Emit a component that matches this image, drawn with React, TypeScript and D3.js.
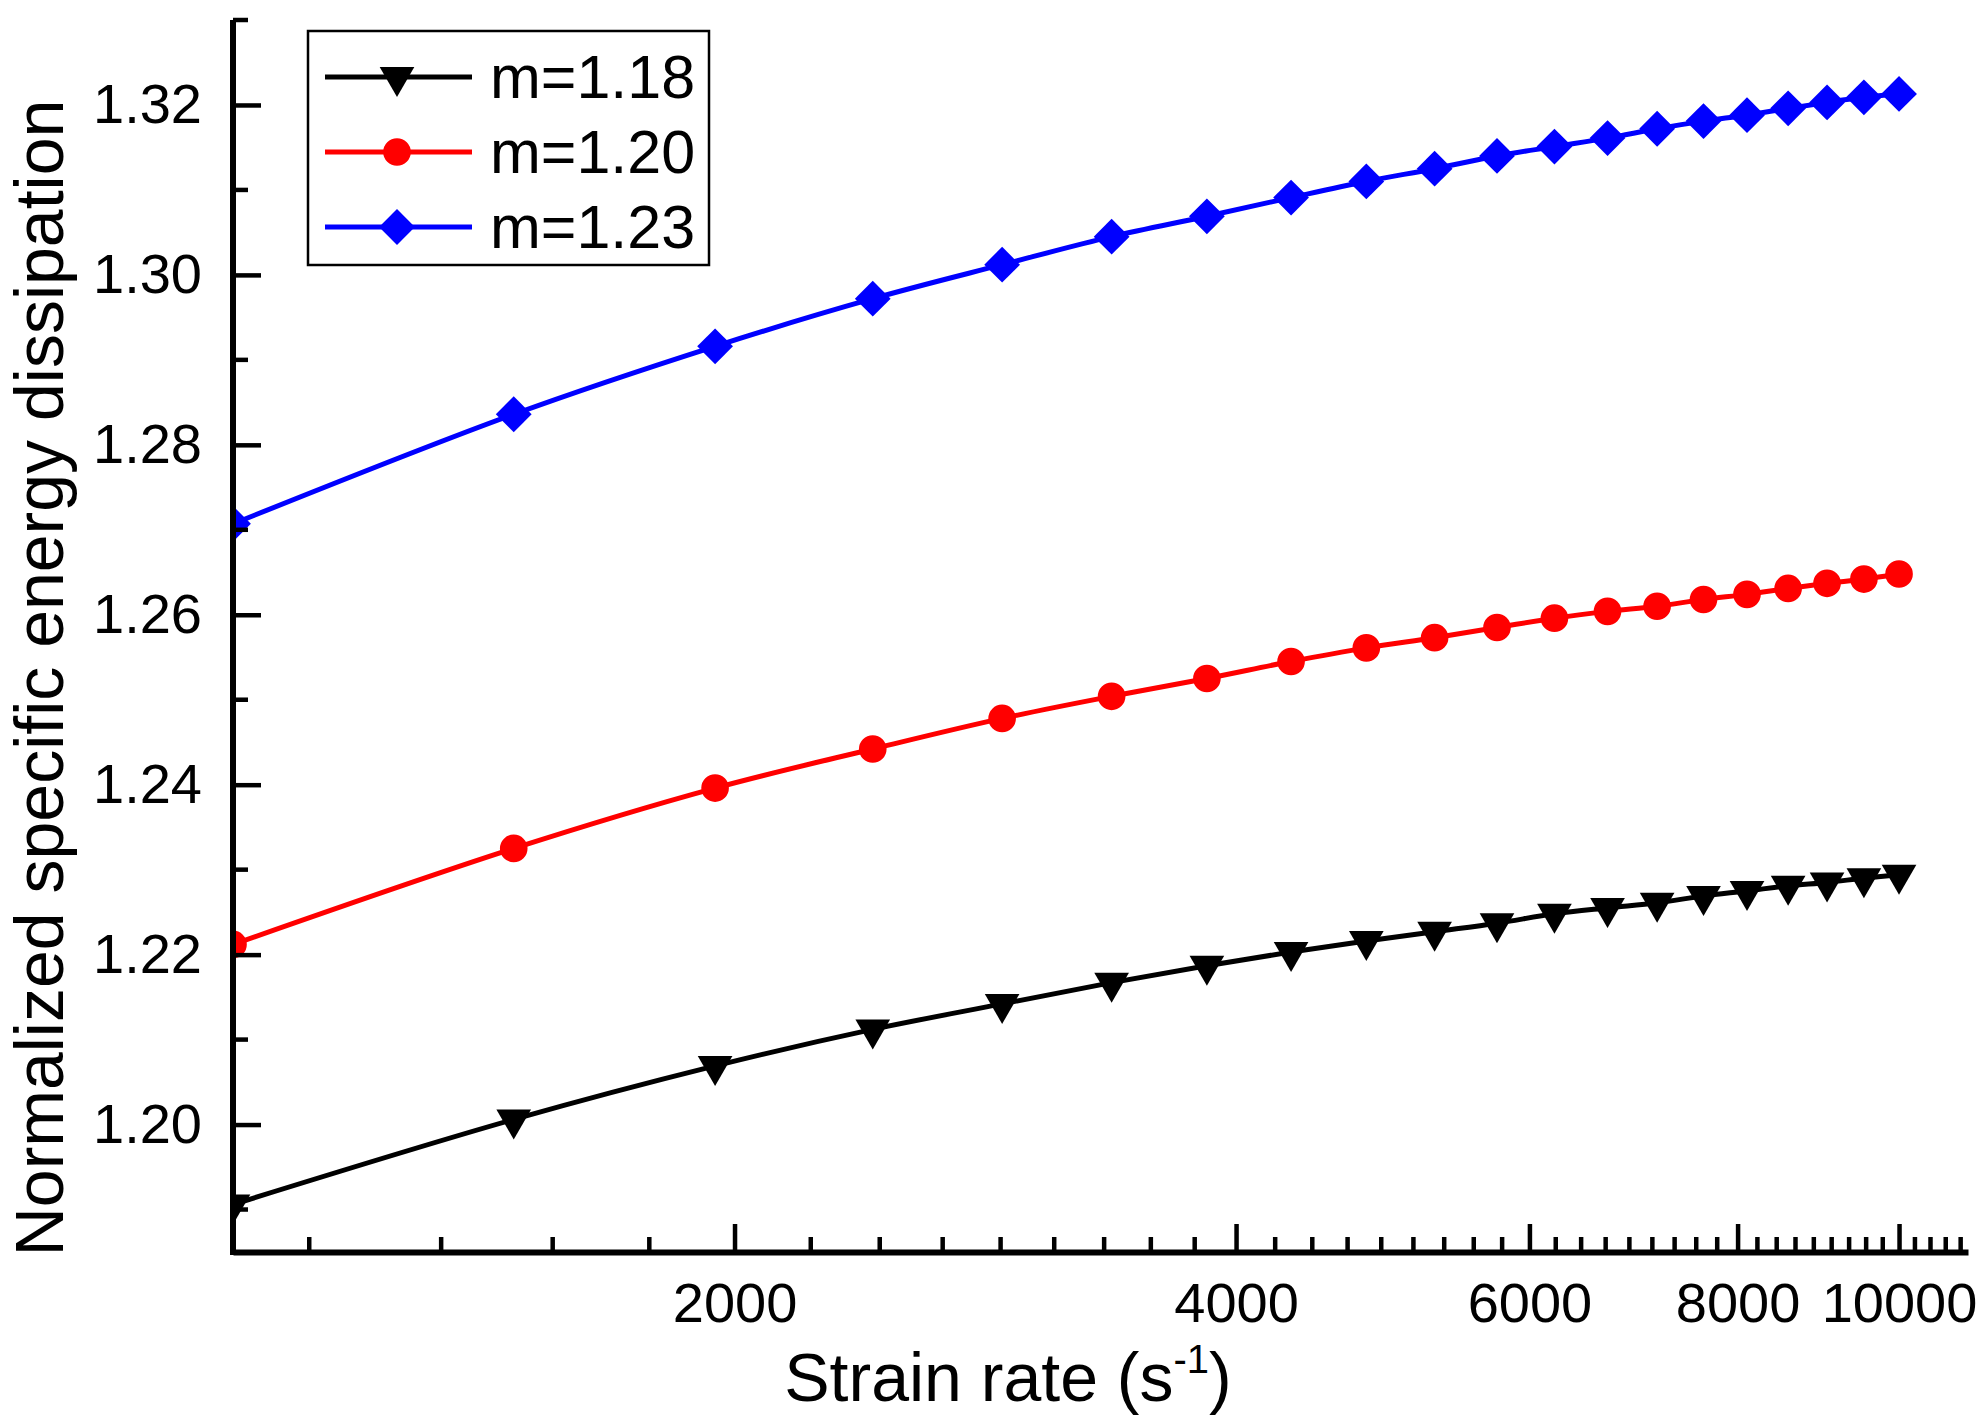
import React, { useRef, useEffect } from "react";
import * as d3 from "d3";

// strain rates (s^-1), 20 points per curve
const strainRates = [1000, 1474, 1947, 2421, 2895, 3368, 3842, 4316, 4789, 5263, 5737, 6211, 6684, 7158, 7632, 8105, 8579, 9053, 9526, 10000];

const m118 = [1.1906, 1.2006, 1.2069, 1.2112, 1.2142, 1.2167, 1.2187, 1.2203, 1.2216, 1.2227, 1.2237, 1.2248, 1.2255, 1.2261, 1.2269, 1.2275, 1.2281, 1.2285, 1.2290, 1.2294];
const m120 = [1.2212, 1.2325, 1.2396, 1.2442, 1.2478, 1.2504, 1.2525, 1.2545, 1.2561, 1.2573, 1.2585, 1.2596, 1.2604, 1.2610, 1.2618, 1.2624, 1.2631, 1.2637, 1.2642, 1.2648];
const m123 = [1.2707, 1.2836, 1.2916, 1.2972, 1.3012, 1.3045, 1.3069, 1.3091, 1.3110, 1.3125, 1.3140, 1.3151, 1.3161, 1.3172, 1.3181, 1.3188, 1.3196, 1.3203, 1.3209, 1.3213];

const xMajorTicks = [2000, 4000, 6000, 8000, 10000];
const yMajorTicks = [1.20, 1.22, 1.24, 1.26, 1.28, 1.30, 1.32];
const yMinorTicks = [1.19, 1.21, 1.23, 1.25, 1.27, 1.29, 1.31, 1.33];

const seriesLabels = ["m=1.18", "m=1.20", "m=1.23"];

const W = 1988;
const H = 1427;
const FONT = "'Liberation Sans', Arial, sans-serif";

export default function App() {
  const ref = useRef<SVGSVGElement>(null);

  useEffect(() => {
    if (!ref.current) return;
    const svg = d3.select(ref.current);
    svg.selectAll("*").remove();

    const left = 233, right = 1968, top = 20, bottom = 1252;

    const x = d3.scaleLog().domain([1000, 11000]).range([left, right]);
    const y = d3.scaleLinear().domain([1.185, 1.33]).range([bottom, top]);

    // minor ticks: 8 between each pair of majors (step 2000/9)
    const xMinor: number[] = [];
    for (let base = 0; base < 12000; base += 2000) {
      for (let k = 1; k <= 8; k++) {
        const v = base + (k * 2000) / 9;
        if (v > 1000 && v < 11000) xMinor.push(v);
      }
    }

    const series = [
      { label: seriesLabels[0], color: "#000000", values: m118, symbol: "tri" },
      { label: seriesLabels[1], color: "#ff0000", values: m120, symbol: "circle" },
      { label: seriesLabels[2], color: "#0000ff", values: m123, symbol: "diamond" },
    ];

    const symbolPath = (kind: string) => {
      if (kind === "tri") return d3.symbol(d3.symbolTriangle, 520)();
      if (kind === "circle") return d3.symbol(d3.symbolCircle, 600)();
      return d3.symbol(d3.symbolSquare, 640)();
    };
    const symbolRot = (kind: string) => (kind === "tri" ? 180 : kind === "diamond" ? 45 : 0);

    svg.append("defs")
      .append("clipPath")
      .attr("id", "plotClip")
      .append("rect")
      .attr("x", left)
      .attr("y", top - 10)
      .attr("width", right - left + 10)
      .attr("height", bottom - top + 10);

    const plot = svg.append("g").attr("clip-path", "url(#plotClip)");

    series.forEach(s => {
      const pts = strainRates.map((r, i) => [r, s.values[i]] as [number, number]);
      const line = d3.line<[number, number]>()
        .x(d => x(d[0]))
        .y(d => y(d[1]))
        .curve(d3.curveCatmullRom.alpha(0.5));

      plot.append("path")
        .datum(pts)
        .attr("fill", "none")
        .attr("stroke", s.color)
        .attr("stroke-width", 5)
        .attr("d", line as any);

      plot.selectAll(`.mk-${s.symbol}`)
        .data(pts)
        .enter()
        .append("path")
        .attr("class", `mk-${s.symbol}`)
        .attr("d", symbolPath(s.symbol))
        .attr("fill", s.color)
        .attr("transform", d => `translate(${x(d[0])},${y(d[1])}) rotate(${symbolRot(s.symbol)})`);
    });

    // axes
    const xAxis = d3.axisBottom(x)
      .tickValues(xMajorTicks)
      .tickFormat(d3.format("d") as any)
      .tickSizeInner(-28)
      .tickSizeOuter(0)
      .tickPadding(30);
    const gx = svg.append("g")
      .attr("transform", `translate(0,${bottom})`)
      .call(xAxis);
    gx.select(".domain").attr("stroke-width", 6);
    gx.selectAll(".tick line").attr("stroke-width", 4.5);
    gx.selectAll(".tick text").style("font-family", FONT).style("font-size", "56px").attr("fill", "#000");

    const gxm = svg.append("g").attr("transform", `translate(0,${bottom})`);
    gxm.selectAll("line")
      .data(xMinor)
      .enter()
      .append("line")
      .attr("x1", d => x(d))
      .attr("x2", d => x(d))
      .attr("y1", 0)
      .attr("y2", -15)
      .attr("stroke", "#000")
      .attr("stroke-width", 4.5);

    const yAxis = d3.axisLeft(y)
      .tickValues(yMajorTicks)
      .tickFormat(d3.format(".2f") as any)
      .tickSizeInner(-28)
      .tickSizeOuter(0)
      .tickPadding(31);
    const gy = svg.append("g")
      .attr("transform", `translate(${left},0)`)
      .call(yAxis);
    gy.select(".domain").attr("stroke-width", 6).attr("d", `M0,${top}V${bottom + 3}`);
    gy.selectAll(".tick line").attr("stroke-width", 4.5);
    gy.selectAll(".tick text").style("font-family", FONT).style("font-size", "56px").attr("fill", "#000");

    const gym = svg.append("g").attr("transform", `translate(${left},0)`);
    gym.selectAll("line")
      .data(yMinorTicks)
      .enter()
      .append("line")
      .attr("x1", 0)
      .attr("x2", 15)
      .attr("y1", d => y(d))
      .attr("y2", d => y(d))
      .attr("stroke", "#000")
      .attr("stroke-width", 4.5);

    // axis titles
    const xt = svg.append("text")
      .attr("x", 1008)
      .attr("y", 1401)
      .attr("text-anchor", "middle")
      .style("font-family", FONT)
      .style("font-size", "68px")
      .attr("fill", "#000");
    xt.append("tspan").text("Strain rate (s");
    xt.append("tspan").attr("dy", -28).style("font-size", "40px").text("-1");
    xt.append("tspan").attr("dy", 28).text(")");

    svg.append("text")
      .attr("transform", `translate(63,678) rotate(-90)`)
      .attr("text-anchor", "middle")
      .style("font-family", FONT)
      .style("font-size", "68px")
      .attr("fill", "#000")
      .text("Normalized specific energy dissipation");

    // legend
    svg.append("rect")
      .attr("x", 308)
      .attr("y", 31)
      .attr("width", 401)
      .attr("height", 234)
      .attr("fill", "#fff")
      .attr("stroke", "#000")
      .attr("stroke-width", 2.5);

    series.forEach((s, i) => {
      const ry = 77 + i * 75;
      svg.append("line")
        .attr("x1", 325)
        .attr("x2", 472)
        .attr("y1", ry)
        .attr("y2", ry)
        .attr("stroke", s.color)
        .attr("stroke-width", 5);
      svg.append("path")
        .attr("d", symbolPath(s.symbol))
        .attr("fill", s.color)
        .attr("transform", `translate(397,${ry}) rotate(${symbolRot(s.symbol)})`);
      svg.append("text")
        .attr("x", 490)
        .attr("y", ry + 21)
        .style("font-family", FONT)
        .style("font-size", "61px")
        .attr("fill", "#000")
        .text(s.label);
    });
  }, []);

  return (
    <div style={{ position: "absolute", left: 0, top: 0, background: "#fff" }}>
      <svg ref={ref} width={W} height={H} style={{ display: "block" }} />
    </div>
  );
}
